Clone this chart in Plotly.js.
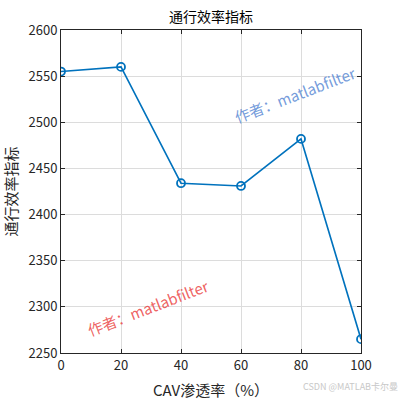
<!DOCTYPE html>
<html><head><meta charset="utf-8">
<script src="https://cdn.plot.ly/plotly-3.0.1.min.js"></script>
<style>body{margin:0;background:#fff}#c{width:400px;height:400px}</style>
</head><body><div id="c"></div>
<script>
const penetration = [0, 20, 40, 60, 80, 100];
const efficiency = [2555, 2560, 2434, 2431, 2482, 2265];
const xTicks = [0, 20, 40, 60, 80, 100];
const yTicks = [2250, 2300, 2350, 2400, 2450, 2500, 2550, 2600];
const F = "'Noto Sans CJK SC', 'Noto Sans', sans-serif";
const axBase = {
  showline: true, linecolor: '#262626', linewidth: 1, mirror: 'ticks',
  ticks: 'inside', ticklen: 4, tickcolor: '#262626',
  showgrid: true, gridcolor: '#dcdcdc', gridwidth: 1, zeroline: false,
  tickfont: {family: F, size: 13, color: '#262626'}
};
Plotly.newPlot('c', [{
  x: penetration, y: efficiency, mode: 'lines+markers', type: 'scatter',
  line: {color: '#0072BD', width: 1.6},
  marker: {symbol: 'circle-open', size: 8, color: '#0072BD', line: {width: 1.8, color: '#0072BD'}}
}], {
  width: 400, height: 400,
  margin: {l: 61, r: 39, t: 30, b: 47},
  paper_bgcolor: '#fff', plot_bgcolor: '#fff', showlegend: false,
  title: {text: '通行效率指标', font: {family: F, size: 14, color: '#000'}, x: 0.5275, xanchor: 'center', y: 0.957, yanchor: 'middle'},
  xaxis: Object.assign({}, axBase, {range: [0, 100], tickvals: xTicks,
    title: {text: 'CAV渗透率（%）', font: {family: F, size: 15, color: '#262626'}, standoff: 13}}),
  yaxis: Object.assign({}, axBase, {range: [2250, 2600], tickvals: yTicks,
    title: {text: '通行效率指标', font: {family: F, size: 15, color: '#262626'}, standoff: 8}}),
  annotations: [
    {text: '作者：matlabfilter', xref: 'paper', yref: 'paper', x: 0.78, y: 0.80, xanchor: 'center', yanchor: 'middle', showarrow: false,
     textangle: -21, font: {family: F, size: 15, color: 'rgba(80,130,210,0.8)'}},
    {text: '作者：matlabfilter', xref: 'paper', yref: 'paper', x: 0.29, y: 0.14, xanchor: 'center', yanchor: 'middle', showarrow: false,
     textangle: -21, font: {family: F, size: 15, color: 'rgba(235,70,70,0.85)'}},
    {text: 'CSDN @MATLAB卡尔曼', xref: 'paper', yref: 'paper', x: 1.13, y: -0.105, xanchor: 'right', yanchor: 'middle', showarrow: false,
     font: {family: F, size: 9, color: '#c8c8c8'}}
  ]
}, {displayModeBar: false, staticPlot: true});
</script></body></html>
